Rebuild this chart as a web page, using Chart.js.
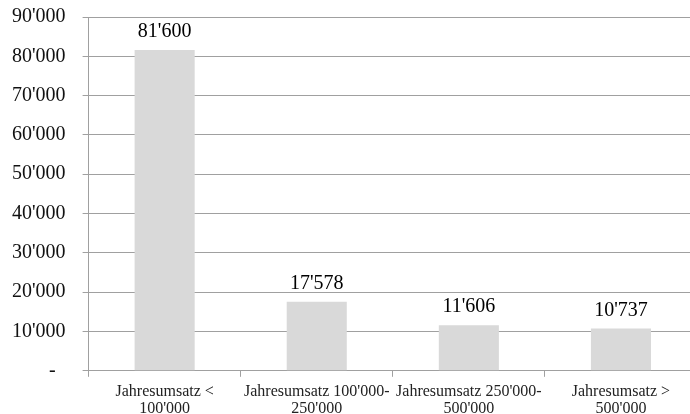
<!DOCTYPE html>
<html>
<head>
<meta charset="utf-8">
<script src="https://cdn.jsdelivr.net/npm/chart.js@4"></script>
<style>
  html, body { margin: 0; padding: 0; background: #fff; overflow: hidden; }
  #wrap { width: 702px; height: 436px; margin-left: -5px; margin-top: -12px; }
</style>
</head>
<body>
<div id="wrap"><canvas id="myChart"></canvas></div>
<script>
const categories = [
  ['Jahresumsatz <', "100'000"],
  ["Jahresumsatz 100'000-", "250'000"],
  ["Jahresumsatz 250'000-", "500'000"],
  ['Jahresumsatz >', "500'000"]
]
const values = [81600, 17578, 11606, 10737]
const yMax = 90000
const yStep = 10000

const serif = '"Liberation Serif", "Times New Roman", serif'

function swiss(n) {
  if (n === 0) return '-'
  return String(Math.round(n)).replace(/\B(?=(\d{3})+(?!\d))/g, "'")
}

const valueLabels = {
  id: 'valueLabels',
  afterDatasetsDraw(chart) {
    const ctx = chart.ctx
    const meta = chart.getDatasetMeta(0)
    ctx.save()
    ctx.font = '20px ' + serif
    ctx.fillStyle = '#000'
    ctx.textAlign = 'center'
    ctx.textBaseline = 'bottom'
    meta.data.forEach((bar, i) => {
      ctx.fillText(swiss(values[i]), bar.x, bar.y - 8)
    })
    ctx.restore()
  }
}

new Chart(document.getElementById('myChart'), {
  type: 'bar',
  data: {
    labels: categories,
    datasets: [{
      data: values,
      backgroundColor: '#d9d9d9',
      borderWidth: 0,
      categoryPercentage: 1,
      barPercentage: 0.395
    }]
  },
  options: {
    responsive: true,
    maintainAspectRatio: false,
    animation: false,
    layout: { padding: 0 },
    plugins: {
      legend: { display: false },
      tooltip: { enabled: false }
    },
    scales: {
      x: {
        grid: { drawOnChartArea: false, drawTicks: true, tickLength: 6, color: '#a0a0a0' },
        border: { color: '#a0a0a0' },
        ticks: {
          color: '#222',
          font: { family: serif, size: 16, lineHeight: 1.1 },
          padding: 6,
          maxRotation: 0,
          autoSkip: false
        }
      },
      y: {
        min: 0,
        max: yMax,
        grid: { color: '#a0a0a0', tickLength: 6 },
        border: { color: '#a0a0a0' },
        ticks: {
          stepSize: yStep,
          color: '#111',
          font: { family: serif, size: 20 },
          padding: 17,
          callback: v => (v === 0 ? '-  ' : swiss(v))
        }
      }
    }
  },
  plugins: [valueLabels]
})
</script>
</body>
</html>
